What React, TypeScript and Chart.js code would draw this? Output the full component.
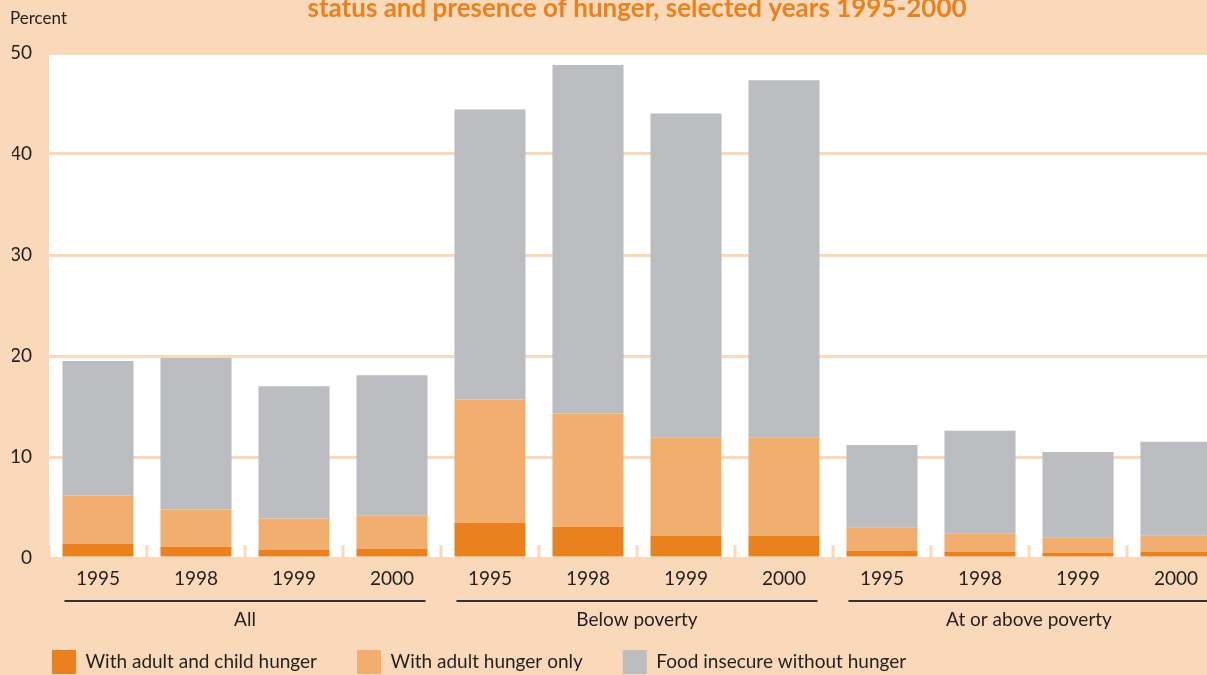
import { useEffect, useRef } from 'react';
import { Chart, registerables } from 'chart.js';

Chart.register(...registerables);

// ---- data ----
const titleText = 'status and presence of hunger, selected years 1995-2000';
const yAxisLabel = 'Percent';
const years = ['1995', '1998', '1999', '2000'];
const groups = ['All', 'Below poverty', 'At or above poverty'];
const categories = groups.flatMap(() => years);
const seriesNames = ['With adult and child hunger', 'With adult hunger only', 'Food insecure without hunger'];
const adultChildHunger = [1.4, 1.1, 0.8, 0.9, 3.5, 3.1, 2.2, 2.2, 0.7, 0.6, 0.5, 0.6];
const adultHungerOnly = [4.8, 3.7, 3.1, 3.3, 12.2, 11.2, 9.7, 9.7, 2.3, 1.8, 1.5, 1.6];
const insecureNoHunger = [13.3, 15.0, 13.1, 13.9, 28.7, 34.5, 32.1, 35.4, 8.2, 10.2, 8.5, 9.3];
const yTicks = [0, 10, 20, 30, 40, 50];

// ---- style ----
const PEACH = '#FAD9BA';
const DARK = '#E8811E';
const LIGHT = '#F1AE6E';
const GRAY = '#BCBDC1';
const TEXT = '#231F20';
const TITLE = '#E8811E';
const FONT = 'Lato, "Open Sans", sans-serif';
const W = 1235;
const H = 700;

export default function App() {
  const ref = useRef<HTMLCanvasElement>(null);

  useEffect(() => {
    if (!ref.current) return;

    const decor = {
      id: 'decor',
      beforeDraw(chart: any) {
        const { ctx, chartArea: a } = chart;
        ctx.save();
        ctx.fillStyle = '#ffffff';
        ctx.fillRect(a.left, a.top, a.right - a.left, a.bottom - a.top);
        ctx.restore();
      },
      beforeDatasetsDraw(chart: any) {
        const { ctx, chartArea: a } = chart;
        const x = chart.scales.x;
        const step = x.getPixelForValue(1) - x.getPixelForValue(0);
        ctx.save();
        ctx.strokeStyle = PEACH;
        ctx.lineWidth = 3;
        for (let i = 0; i <= categories.length; i++) {
          const px = x.getPixelForValue(0) + (i - 0.5) * step;
          ctx.beginPath();
          ctx.moveTo(px, a.bottom - 13);
          ctx.lineTo(px, a.bottom);
          ctx.stroke();
        }
        ctx.restore();
      },
      afterDraw(chart: any) {
        const { ctx, chartArea: a } = chart;
        const x = chart.scales.x;
        const meta = chart.getDatasetMeta(0);
        ctx.save();
        // y axis label
        ctx.fillStyle = TEXT;
        ctx.font = `17px ${FONT}`;
        ctx.textAlign = 'left';
        ctx.textBaseline = 'middle';
        ctx.fillText(yAxisLabel, chart.scales.y.left - 2, a.top - 34);
        // groups
        ctx.font = `19px ${FONT}`;
        ctx.textAlign = 'center';
        groups.forEach((g, gi) => {
          const first = gi * years.length;
          const last = first + years.length - 1;
          const b0 = meta.data[first];
          const b1 = meta.data[last];
          const x0 = b0.x - b0.width / 2 + 2;
          const x1 = b1.x + b1.width / 2 - 2;
          ctx.strokeStyle = '#333333';
          ctx.lineWidth = 2;
          ctx.beginPath();
          ctx.moveTo(x0, x.top + 43);
          ctx.lineTo(x1, x.top + 43);
          ctx.stroke();
          ctx.fillStyle = TEXT;
          ctx.fillText(g, (x0 + x1) / 2, x.top + 62);
        });
        ctx.restore();
      },
    };

    const chart = new Chart(ref.current, {
      type: 'bar',
      data: {
        labels: categories,
        datasets: [
          { label: seriesNames[0], data: adultChildHunger, backgroundColor: DARK },
          { label: seriesNames[1], data: adultHungerOnly, backgroundColor: LIGHT },
          { label: seriesNames[2], data: insecureNoHunger, backgroundColor: GRAY },
        ],
      },
      options: {
        responsive: false,
        animation: false,
        devicePixelRatio: 1,
        datasets: { bar: { barPercentage: 0.725, categoryPercentage: 1 } },
        layout: { padding: { left: 12, right: 10, top: 0, bottom: 8 } },
        plugins: {
          title: {
            display: true,
            text: titleText,
            fullSize: false,
            color: TITLE,
            font: { family: FONT, size: 26, weight: 'bold' },
            padding: { top: 1.4, bottom: 28.4 },
          },
          legend: {
            position: 'bottom',
            align: 'start',
            labels: {
              boxWidth: 24,
              boxHeight: 24,
              padding: 40,
              color: TEXT,
              font: { family: FONT, size: 19 },
            },
          },
          tooltip: { enabled: false },
        },
        scales: {
          x: {
            stacked: true,
            offset: true,
            grid: { display: false },
            border: { display: false },
            ticks: { autoSkip: false, maxRotation: 0, color: TEXT, font: { family: FONT, size: 19 }, padding: 1 },
            afterFit: (s: any) => { s.height = 52; },
          },
          y: {
            stacked: true,
            min: yTicks[0],
            max: yTicks[yTicks.length - 1],
            afterBuildTicks: (s: any) => { s.ticks = yTicks.map((v) => ({ value: v })); },
            ticks: { color: TEXT, font: { family: FONT, size: 19 }, padding: 17 },
            grid: { color: PEACH, lineWidth: 3, drawTicks: false },
            border: { display: false },
            afterFit: (s: any) => { s.width = 37; },
          },
        },
      },
      plugins: [decor],
    } as any);

    return () => chart.destroy();
  }, []);

  return (
    <div style={{ position: 'fixed', left: 0, top: 0, width: 1207, height: 675, overflow: 'hidden', background: PEACH }}>
      <canvas
        ref={ref}
        width={W}
        height={H}
        style={{ position: 'absolute', left: 0, top: -8, width: W, height: H }}
      />
    </div>
  );
}
